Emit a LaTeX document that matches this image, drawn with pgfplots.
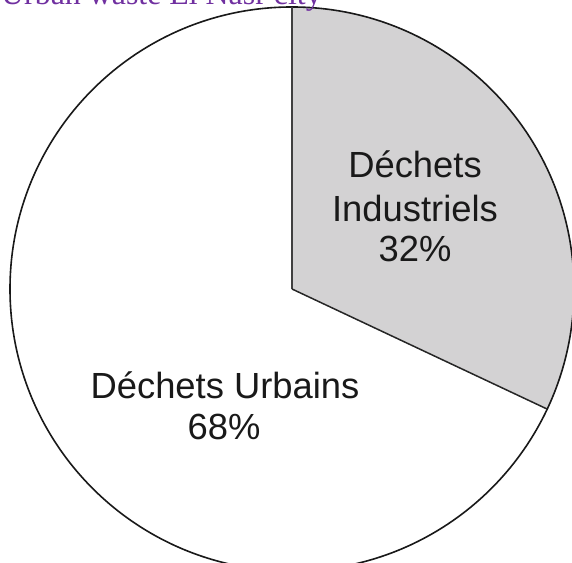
\documentclass[border=0pt]{standalone}
\usepackage{pgfplots}
\usepackage{pgfplotstable}
\pgfplotsset{compat=1.18}
\usepackage{fontspec}
\setmainfont{Liberation Sans}
\newfontfamily\titlefont{Liberation Serif}
\definecolor{titlepurple}{RGB}{112,48,160}
\definecolor{slicegray}{RGB}{211,210,211}
\pgfplotstableread[col sep=comma]{
label,value
Industriels,32
Urbains,68
}\piedata
\pgfplotstablegetelem{0}{value}\of\piedata
\let\vind\pgfplotsretval
\pgfplotstablegetelem{1}{value}\of\piedata
\let\vurb\pgfplotsretval
\pgfmathsetmacro{\aend}{90-360*\vind/(\vind+\vurb)}
\begin{document}
\begin{tikzpicture}
\begin{axis}[
  x=1bp, y=1bp,
  xmin=0, xmax=572, ymin=0, ymax=563,
  hide axis,
  clip=true,
]
\def\cx{292}\def\cy{274}\def\R{282bp}
% industrial slice
\fill[slicegray] (axis cs:\cx,\cy) -- ++(90:\R) arc[start angle=90, end angle=\aend, radius=\R] -- cycle;
% urban slice
\fill[white] (axis cs:\cx,\cy) -- ++(\aend:\R) arc[start angle=\aend, end angle=-270, radius=\R] -- cycle;
% outlines
\draw[black!90, line width=1.6bp] (axis cs:\cx,\cy) circle[radius=\R];
\draw[black!75, line width=1.5bp] (axis cs:\cx,\cy) -- ++(90:\R);
\draw[black!85, line width=1.5bp] (axis cs:\cx,\cy) -- ++(\aend:\R);
% labels
\node[anchor=base, inner sep=0pt, font=\fontsize{36.5}{42}\selectfont, text=black!90] at (axis cs:415,385) {Déchets};
\node[anchor=base, inner sep=0pt, font=\fontsize{36.5}{42}\selectfont, text=black!90] at (axis cs:415,341) {Industriels};
\node[anchor=base, inner sep=0pt, font=\fontsize{36.5}{42}\selectfont, text=black!90] at (axis cs:415,301) {\vind\%};
\node[anchor=base, inner sep=0pt, font=\fontsize{36.5}{42}\selectfont, text=black!90] at (axis cs:225,164) {Déchets Urbains};
\node[anchor=base, inner sep=0pt, font=\fontsize{36.5}{42}\selectfont, text=black!90] at (axis cs:224,123) {\vurb\%};
% title (cut by the top edge as in the reference)
\node[anchor=base west, inner sep=0pt, font=\titlefont\fontsize{32}{36}\selectfont, text=titlepurple] at (axis cs:1,558) {Urban waste El Nasr city};
\end{axis}
\end{tikzpicture}
\end{document}
